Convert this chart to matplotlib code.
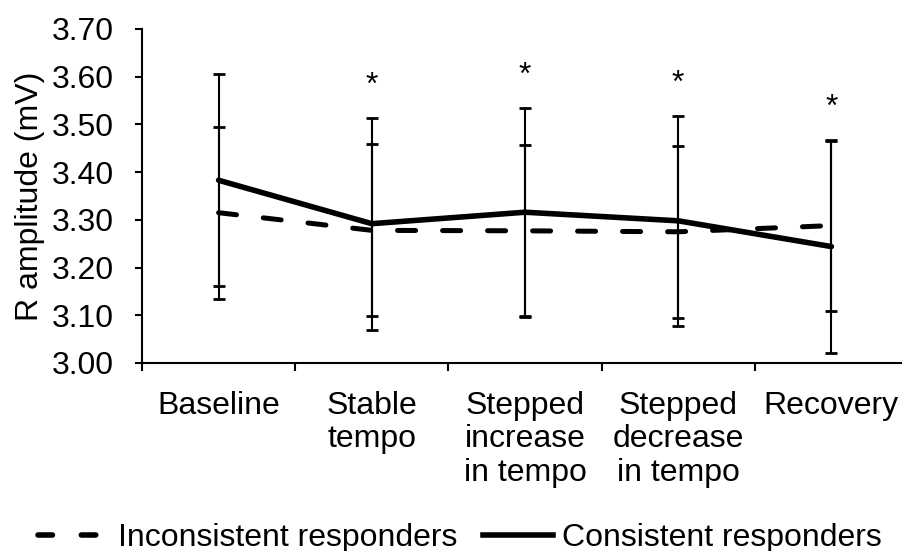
import matplotlib
matplotlib.use("Agg")
import matplotlib.pyplot as plt
from matplotlib.lines import Line2D
from matplotlib.ticker import FormatStrFormatter
import numpy as np

plt.rcParams['font.family'] = ['Liberation Sans', 'DejaVu Sans']

# data
phases = ['Baseline', 'Stable\ntempo', 'Stepped\nincrease\nin tempo',
          'Stepped\ndecrease\nin tempo', 'Recovery']
consistent = [3.383, 3.292, 3.316, 3.298, 3.244]
consistent_err = [0.222, 0.222, 0.218, 0.220, 0.222]
inconsistent = [3.315, 3.278, 3.277, 3.275, 3.288]
inconsistent_err = [0.180, 0.180, 0.180, 0.180, 0.180]
significant = [False, True, True, True, True]

fs = 23

fig = plt.figure(figsize=(9.02, 5.51), dpi=100)
ax = fig.add_axes([142 / 902, 1 - 363 / 551, 766 / 902, 334 / 551])
x = np.arange(len(phases))

ax.plot(x, inconsistent, color='black', lw=3.6, dashes=(3.6, 5.4),
        dash_capstyle='round')
ax.plot(x, consistent, color='black', lw=4, solid_capstyle='round',
        solid_joinstyle='round')
ax.errorbar(x, inconsistent, yerr=inconsistent_err, fmt='none', ecolor='black',
            elinewidth=1.5, capsize=4.5, capthick=2)
ax.errorbar(x, consistent, yerr=consistent_err, fmt='none', ecolor='black',
            elinewidth=1.5, capsize=4.5, capthick=2)

for i, sig in enumerate(significant):
    if sig:
        top = max(consistent[i] + consistent_err[i],
                  inconsistent[i] + inconsistent_err[i])
        ax.text(i, top + 0.05, '*', ha='center', va='baseline', fontsize=fs)

ax.set_xlim(-0.5, 4.5)
ax.set_ylim(3.0, 3.7)
ax.set_yticks(np.arange(3.0, 3.71, 0.1))
ax.yaxis.set_major_formatter(FormatStrFormatter('%.2f'))
ax.set_xticks(np.arange(-0.5, 4.6, 1))
ax.set_xticklabels([])
ax.set_xticks(x, minor=True)
ax.set_xticklabels(phases, minor=True)

ax.tick_params(axis='x', which='minor', length=0, pad=20, labelsize=fs)
ax.tick_params(axis='x', which='major', length=6, width=1.5, direction='out')
ax.tick_params(axis='y', length=5, width=1.5, direction='out', pad=15,
               labelsize=fs)
for t in ax.get_xticklabels(minor=True):
    t.set_linespacing(1.15)
for s in ['top', 'right']:
    ax.spines[s].set_visible(False)
for s in ['left', 'bottom']:
    ax.spines[s].set_linewidth(1.5)

ax.set_ylabel('R amplitude (mV)', fontsize=fs, labelpad=5)

handles = [Line2D([], [], color='black', lw=4, dashes=(2.6, 5.2),
                  dash_capstyle='round'),
           Line2D([], [], color='black', lw=4)]
fig.legend(handles, ['Inconsistent responders', 'Consistent responders'],
           loc='center', bbox_to_anchor=(460 / 902, 0.024), ncol=2,
           frameon=False, fontsize=fs, handlelength=2.2, handletextpad=0.3,
           columnspacing=0.8)

fig.savefig('out.png', dpi=100)
